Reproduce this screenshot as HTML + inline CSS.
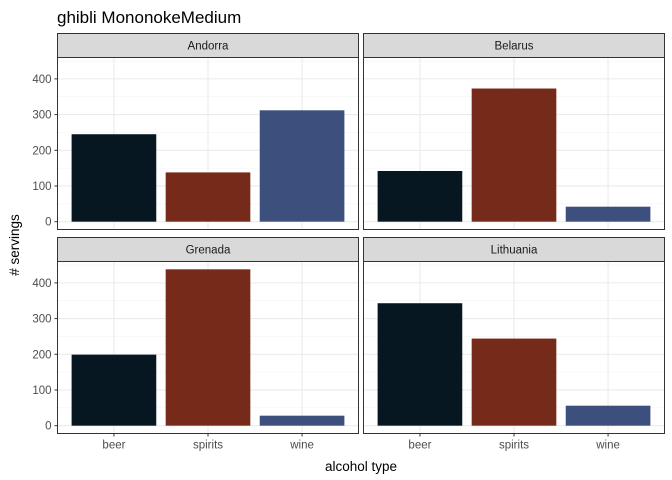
<!DOCTYPE html>
<html><head><meta charset="utf-8"><style>
body{margin:0;background:#fff}
svg{font-family:"Liberation Sans",Arial,sans-serif;display:block}
</style></head><body>
<svg id="c" width="672" height="480" viewBox="0 0 672 480">
<rect width="672" height="480" fill="#fff"/>
<text x="57" y="23" font-size="17" fill="#000">ghibli MononokeMedium</text>
<text transform="translate(19,245) rotate(-90)" font-size="13.5" text-anchor="middle" fill="#000"># servings</text>
<text x="361" y="471" font-size="13.5" text-anchor="middle" fill="#000">alcohol type</text>
</svg>
<script>
const countries=["Andorra","Belarus","Grenada","Lithuania"];
const categories=["beer","spirits","wine"];
const beerValues=[245,142,199,343];
const spiritsValues=[138,373,438,244];
const wineValues=[312,42,28,56];
const yTicks=[0,100,200,300,400];
const colors=["#061722","#762a19","#3d4f7d"];
const svg=document.getElementById('c');
const NS="http://www.w3.org/2000/svg";
function mk(t,a,p){const e=document.createElementNS(NS,t);for(const k in a)e.setAttribute(k,a[k]);(p||svg).appendChild(e);return e;}
const series=[beerValues,spiritsValues,wineValues];
const maxV=Math.max(...beerValues,...spiritsValues,...wineValues);
const yMin=-0.05*maxV,yMax=maxV*1.05;
const panels=[{x:57.5,y:57.5},{x:363.5,y:57.5},{x:57.5,y:261.5},{x:363.5,y:261.5}];
const PW=301,PH=172;
countries.forEach((c,i)=>{
  const p=panels[i];
  const ys=v=>p.y+PH-(v-yMin)/(yMax-yMin)*PH;
  const xs=k=>p.x+(k+1-0.4)/3.2*PW;
  const g=mk('g',{});
  
  
  mk('rect',{x:p.x,y:p.y,width:PW,height:PH,fill:'#fff'},g);
  for(let v=50;v<yMax;v+=100){const l=mk('line',{x1:p.x,x2:p.x+PW,y1:ys(v),y2:ys(v),stroke:'#f3f3f3','stroke-width':0.6},g);}
  yTicks.forEach(v=>{mk('line',{x1:p.x,x2:p.x+PW,y1:ys(v),y2:ys(v),stroke:'#ebebeb','stroke-width':1.1},g);});
  categories.forEach((k,j)=>{mk('line',{x1:xs(j),x2:xs(j),y1:p.y,y2:p.y+PH,stroke:'#ebebeb','stroke-width':1.1},g);});
  categories.forEach((k,j)=>{
    const v=series[j][i];
    const b=mk('rect',{x:xs(j)-0.45/3.2*PW,width:0.9/3.2*PW,y:ys(v),height:ys(0)-ys(v),fill:colors[j]},g);
    
    
  });
  mk('rect',{x:p.x,y:p.y,width:PW,height:PH,fill:'none',stroke:'#333','stroke-width':1},g);
  const s=mk('rect',{x:p.x,y:p.y-24,width:PW,height:24,fill:'#d9d9d9',stroke:'#333','stroke-width':1},g);
  
  
  const st=mk('text',{x:p.x+PW/2,y:p.y-8,'font-size':11.5,'text-anchor':'middle',fill:'#1a1a1a'},g);
  st.textContent=c;
  if(i%2===0){
    yTicks.forEach(v=>{
      mk('line',{x1:p.x-3,x2:p.x,y1:ys(v),y2:ys(v),stroke:'#333'},g);
      const t=mk('text',{x:p.x-6,y:ys(v)+4,'font-size':11.5,'text-anchor':'end',fill:'#4d4d4d'},g);
      
      
      t.textContent=v;
    });
  }
  if(i>=2){
    categories.forEach((k,j)=>{
      mk('line',{x1:xs(j),x2:xs(j),y1:p.y+PH,y2:p.y+PH+3,stroke:'#333'},g);
      const t=mk('text',{x:xs(j),y:p.y+PH+15,'font-size':11.5,'text-anchor':'middle',fill:'#4d4d4d'},g);
      
      
      t.textContent=k;
    });
  }
});
</script>
</body></html>
